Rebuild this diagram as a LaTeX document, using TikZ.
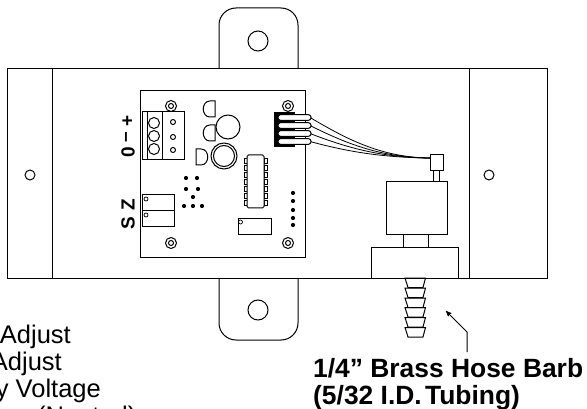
\documentclass[tikz,border=0pt]{standalone}
\usepackage{fontspec}
\setmainfont{Liberation Sans}
\usetikzlibrary{arrows}
\tikzset{
	part/.style={draw=black,line width=1pt},
	dot/.style={fill=black,draw=none},
	label/.style={inner sep=0pt,font=\fontsize{25.5}{27}\selectfont},
	bold label/.style={inner sep=0pt,font=\fontsize{26.4}{27}\selectfont\bfseries},
	side mark/.style={inner sep=0pt,rotate=90,font=\fontsize{19}{19}\selectfont\bfseries}
}

\begin{document}
\begin{tikzpicture}[x=1pt,y=-1pt,->,>=stealth']
	\clip (0,0) rectangle (587,409);
	\fill[white] (0,0) rectangle (587,409);
	% tabs and plate
	\draw[part,-,rounded corners=17pt] (219,69) -- (219,8) -- (298,8) -- (298,69);
	\draw[part,-,rounded corners=17pt] (219,278) -- (219,340) -- (298,340) -- (298,278);
	\draw[part,-] (7,69) rectangle (547,278);
	\draw[part,-] (52,69) -- (52,278);
	\draw[part,-] (469,69) -- (469,278);
	\draw[part,-] (258,41) circle (10);
	\draw[part,-] (258,310) circle (10);
	\draw[part,-] (30,175) circle (5);
	\draw[part,-] (489,175) circle (5);
	% board
	\draw[part,-] (140,91) rectangle (305,258);
	\foreach \x/\y in {171/106,288/106,171/243,288/243} {
		\draw[part,-] (\x,\y) circle (5.5);
		\draw[part,-] (\x,\y) circle (2.5);
	}
	% terminal block
	\draw[part,-] (142,112) rectangle (184,160);
	\draw[part,-] (147,112) -- (147,160);
	\draw[part,-] (162,112) -- (162,160);
	\foreach \y in {123,136,149} \draw[part,-] (154,\y) circle (5.5);
	\foreach \y in {122,137,150} \draw[part,-] (173,\y) circle (2.5);
	\node[side mark] (plus) at (128,121) {+};
	\node[side mark] (minus) at (128,137) {--};
	\node[side mark] (zero) at (128,152) {0};
	\node[side mark] (zed) at (128,205) {Z};
	\node[side mark] (ess) at (128,223) {S};
	% transistors
	\draw[part,-] (215,101) -- (210,101) .. controls (201,101) and (201,117) .. (210,117) -- (215,117) -- cycle;
	\draw[part,-] (215,125) -- (210,125) .. controls (201,125) and (201,141) .. (210,141) -- (215,141) -- cycle;
	\draw[part,-] (196,149) -- (201,149) .. controls (210,149) and (210,165) .. (201,165) -- (196,165) -- cycle;
	\draw[part,-] (228,127) circle (12);
	\draw[part,-] (224,156) circle (13);
	\draw[part,-] (224,156) circle (10.5);
	% chip
	\foreach \y in {158,165,172,179,186,193,200} {
		\draw[part,line width=.7pt,-] (244,\y) rectangle (247.5,\y+5);
		\draw[part,line width=.7pt,-] (264,\y) rectangle (267.5,\y+5);
	}
	\draw[part,-,rounded corners=1.5pt,fill=white] (247,155) rectangle (264,208);
	% solder dots
	\foreach \x/\y in {186/178,197/178,186/189,198/189,193/197,184/206,193/206,202/206,293/193,293/201,293/210,293/218,293/225}
		\fill[dot] (\x,\y) circle (2.1);
	% trimmers
	\draw[part,-] (142,195) rectangle (174,227);
	\draw[part,-] (142,211) -- (174,211);
	\draw[part,line width=.7pt,-] (146,199) circle (2);
	\draw[part,line width=.7pt,-] (146,215) circle (2);
	\draw[part,-] (238,219) rectangle (271,235);
	\draw[part,line width=.7pt,-] (240.5,222) circle (2);
	% wires
	\coordinate (sensor) at (430,158);
	\foreach \y/\c in {117.5/138,125.5/143,133.5/147,141.5/151}
		\draw[line width=.8pt,-] (310,\y) .. controls (345,\c) and (380,157.5) .. (sensor);
	% header
	\fill[black] (274,112) rectangle (295,147);
	\foreach \y in {117.5,125.5,133.5,141.5}
		\draw[part,-,fill=white,rounded corners=2.5pt] (278,\y-2.8) rectangle (311,\y+2.8);
	% sensor and fitting
	\draw[part,-] (430,155) rectangle (443,171);
	\draw[part,-] (433.5,171) rectangle (439.5,182);
	\draw[part,-] (386,182) rectangle (447,235);
	\draw[part,-] (403,235) -- (403,248);
	\draw[part,-] (428,235) -- (428,248);
	\draw[part,-] (371,278) -- (371,248) -- (458,248) -- (458,278);
	% barb
	\foreach \y in {278,288,298,307.5,317.5,327.5}
		\draw[part,-] (405,\y) -- (425.5,\y) -- (423,\y+9.5) -- (408,\y+9.5) -- cycle;
	% labels
	\node[bold label,anchor=base west] (barb) at (313,377) {1/4” Brass Hose Barb};
	\node[bold label,anchor=base west] (tubing) at (313,404) {(5/32 I.D.\hspace{-.15em} Tubing)};
	\coordinate (bend) at (467,332);
	\coordinate (tip) at (446,311);
	\draw[line width=1pt] (467,352) -- (bend) -- (tip);
	\node[label,anchor=base east] (span) at (71,343) {Adjust};
	\node[label,anchor=base east] (adjust) at (62,370.5) {Adjust};
	\node[label,anchor=base east] (supply) at (101,397) {y Voltage};
	\node[label,anchor=base west] (neutral) at (37,424) {(Neutral)};
\end{tikzpicture}
\end{document}
